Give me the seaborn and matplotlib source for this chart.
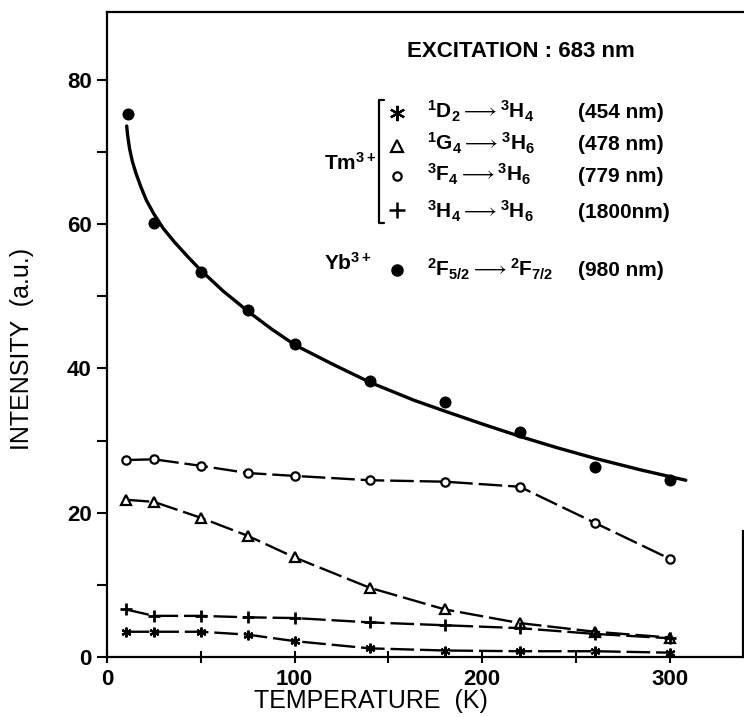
import matplotlib
matplotlib.use('Agg')
import matplotlib.pyplot as plt
import seaborn as sns
import pandas as pd

# ---------------- data ----------------
temps = [10, 25, 50, 75, 100, 140, 180, 220, 260, 300]
tm_454 = [3.5, 3.5, 3.5, 3.1, 2.2, 1.2, 0.9, 0.8, 0.8, 0.6]       # 1D2 -> 3H4  (*)
tm_478 = [21.8, 21.5, 19.3, 16.8, 13.8, 9.6, 6.6, 4.7, 3.5, 2.7]  # 1G4 -> 3H6  (triangle)
tm_779 = [27.3, 27.4, 26.5, 25.5, 25.1, 24.5, 24.3, 23.6, 18.6, 13.6]  # 3F4 -> 3H6 (circle)
tm_1800 = [6.6, 5.7, 5.7, 5.5, 5.4, 4.8, 4.4, 4.0, 3.2, 2.6]      # 3H4 -> 3H6  (+)

yb_temps = [11, 25, 50, 75, 100, 140, 180, 220, 260, 300]
yb_980 = [75.3, 60.2, 53.4, 48.1, 43.4, 38.3, 35.4, 31.2, 26.4, 24.5]

# hand-drawn smooth curve through Yb points
yb_fit_T = [10.5, 11, 12, 13.5, 15.5, 18, 21, 25, 30, 36, 43, 50, 62, 75.7, 88,
            100.5, 120.9, 140.8, 163.5, 179.8, 200, 221, 240, 260.6, 285, 308.5]
yb_fit_I = [73.6, 72.3, 70.5, 68.7, 67.0, 65.2, 63.3, 61.4, 59.4, 57.5, 55.5, 53.6,
            50.7, 47.8, 45.4, 43.2, 40.5, 38.0, 35.6, 34.1, 32.3, 30.5, 29.0, 27.5,
            25.9, 24.5]

x_major = [0, 100, 200, 300]
x_minor = [50, 150, 250]
y_major = [0, 20, 40, 60, 80]
y_minor = [10, 30, 50, 70]

legend_transitions = [r'$^{1}\mathrm{D}_{2}\longrightarrow{}^{3}\mathrm{H}_{4}$',
                      r'$^{1}\mathrm{G}_{4}\longrightarrow{}^{3}\mathrm{H}_{6}$',
                      r'$^{3}\mathrm{F}_{4}\longrightarrow{}^{3}\mathrm{H}_{6}$',
                      r'$^{3}\mathrm{H}_{4}\longrightarrow{}^{3}\mathrm{H}_{6}$',
                      r'$^{2}\mathrm{F}_{5/2}\longrightarrow{}^{2}\mathrm{F}_{7/2}$']
legend_wavelengths = ['(454 nm)', '(478 nm)', '(779 nm)', '(1800nm)', '(980 nm)']

# ---------------- style ----------------
sns.set_theme(style='ticks')
plt.rcParams['font.family'] = ['Liberation Sans', 'DejaVu Sans']
plt.rcParams['mathtext.fontset'] = 'custom'
plt.rcParams['mathtext.rm'] = 'Liberation Sans:bold'
plt.rcParams['mathtext.it'] = 'Liberation Sans:bold'
plt.rcParams['mathtext.bf'] = 'Liberation Sans:bold'
plt.rcParams['mathtext.sf'] = 'Liberation Sans:bold'
for key in ['text.color', 'axes.labelcolor', 'xtick.color', 'ytick.color',
            'xtick.labelcolor', 'ytick.labelcolor', 'axes.edgecolor']:
    plt.rcParams[key] = 'black'

fig = plt.figure(figsize=(7.44, 7.17), dpi=100)
ax = fig.add_axes([107 / 744, 60 / 717, 636 / 744, 645 / 717])

# ---------------- Tm series ----------------
series = [
    (tm_779, 'o', 6.0, 1.6),
    (tm_478, '^', 6.5, 1.6),
    (tm_1800, '+', 8.0, 2.0),
    (tm_454, (6, 2, 0), 7.0, 1.6),
]
for vals, mk, ms, mew in series:
    df = pd.DataFrame({'T': temps, 'I': vals})
    sns.lineplot(data=df, x='T', y='I', ax=ax, color='black', lw=1.7,
                 linestyle=(0, (10, 2.5)), marker=mk, markersize=ms,
                 markerfacecolor='white', markeredgecolor='black',
                 markeredgewidth=mew, sort=False, estimator=None, zorder=3)

# ---------------- Yb ----------------
sns.lineplot(x=yb_fit_T, y=yb_fit_I, ax=ax, color='black', lw=2.4,
             sort=False, estimator=None, zorder=3)
sns.scatterplot(x=yb_temps, y=yb_980, ax=ax, color='black', s=75,
                edgecolor='black', linewidth=0, zorder=4)

# ---------------- axes ----------------
ax.set_xlim(0, 339)
ax.set_ylim(0, 89.4)
ax.set_xticks(x_major)
ax.set_xticks(x_minor, minor=True)
ax.set_yticks(y_major)
ax.set_yticks(y_minor, minor=True)
ax.set_xticklabels([str(v) for v in x_major], fontsize=16, fontweight='bold')
ax.set_yticklabels([str(v) for v in y_major], fontsize=16, fontweight='bold')
ax.tick_params(axis='y', which='both', direction='out', length=7, width=1.5,
               pad=4, color='black')
ax.tick_params(axis='x', which='both', direction='inout', length=9, width=1.5,
               pad=4, color='black')
for s in ['left', 'bottom', 'top', 'right']:
    ax.spines[s].set_linewidth(1.6)
    ax.spines[s].set_color('black')
ax.spines['right'].set_bounds(0, 17.5)

ax.set_xlabel('TEMPERATURE  (K)', fontsize=18)
ax.set_ylabel('INTENSITY  (a.u.)', fontsize=18)
ax.xaxis.set_label_coords(0.415, -0.05)
ax.yaxis.set_label_coords(-0.115, 0.478)

# ---------------- annotation / legend ----------------
ax.text(0.4717, 0.930, 'EXCITATION : 683 nm', transform=ax.transAxes,
        fontsize=16, fontweight='bold', ha='left', va='baseline')

row_base = [0.835, 0.786, 0.737, 0.680, 0.590]
row_mark = [0.843, 0.793, 0.746, 0.693, 0.600]
leg_markers = [((6, 2, 0), 11, 1.6, 'white'), ('^', 9, 1.6, 'white'),
               ('o', 6, 1.6, 'white'), ('+', 11, 1.8, 'white'),
               ('o', 8, 1.0, 'black')]
for i in range(5):
    mk, ms, mew, fc = leg_markers[i]
    ax.plot([0.456], [row_mark[i]], transform=ax.transAxes, marker=mk,
            markersize=ms, markeredgewidth=mew, markerfacecolor=fc,
            markeredgecolor='black', linestyle='none', clip_on=False)
    ax.text(0.503, row_base[i], legend_transitions[i], transform=ax.transAxes,
            fontsize=15, ha='left', va='baseline')
    ax.text(0.741, row_base[i], legend_wavelengths[i], transform=ax.transAxes,
            fontsize=15, fontweight='bold', ha='left', va='baseline')

ax.text(0.423, 0.755, r'Tm$^{3+}$', transform=ax.transAxes, fontsize=15,
        fontweight='bold', ha='right', va='baseline')
ax.text(0.4167, 0.600, r'Yb$^{3+}$', transform=ax.transAxes, fontsize=15,
        fontweight='bold', ha='right', va='baseline')
# bracket grouping the Tm3+ transitions
ax.plot([0.436, 0.4277, 0.4277, 0.436], [0.8636, 0.8636, 0.673, 0.673],
        transform=ax.transAxes, color='black', lw=1.6, clip_on=False)

fig.savefig('out.png', dpi=100)
